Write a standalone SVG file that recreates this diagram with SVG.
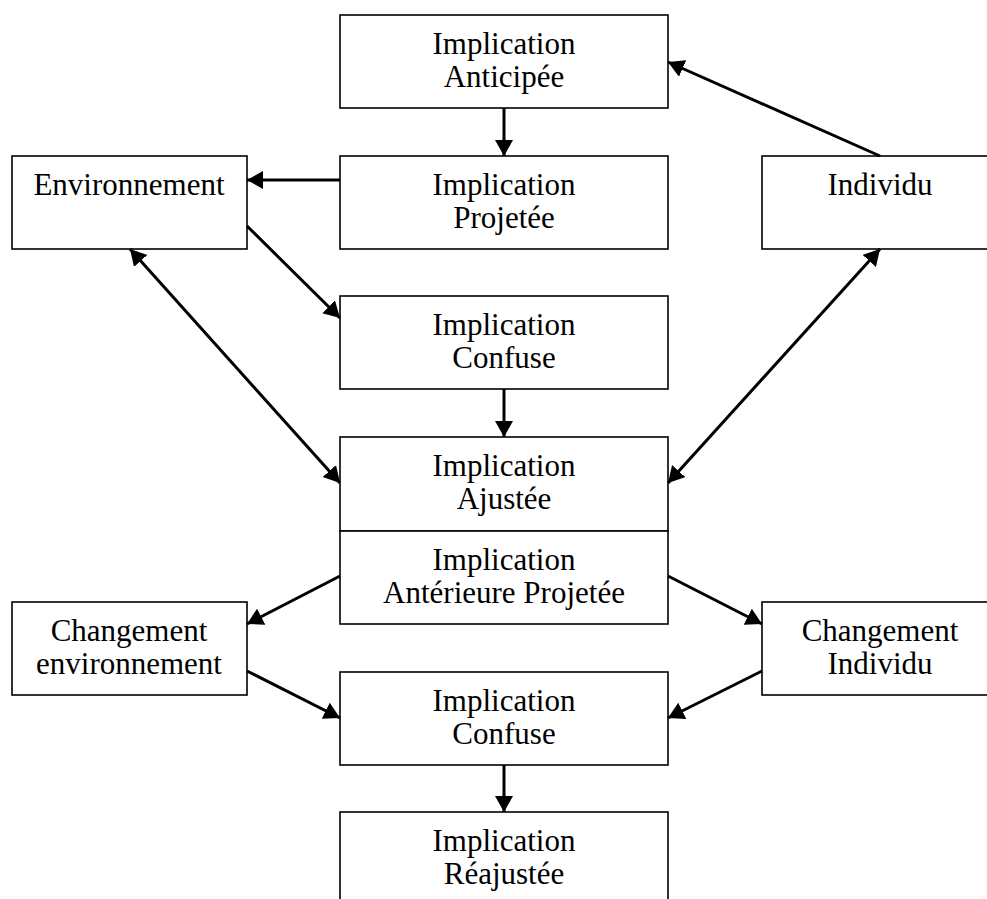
<svg xmlns="http://www.w3.org/2000/svg" width="987" height="899" viewBox="0 0 987 899">
<style>
.box{fill:#fff;stroke:#000;stroke-width:1.6}
.t{font-family:"Liberation Serif","Times New Roman",serif;font-size:31px;fill:#000;text-anchor:middle}
.c{stroke:#000;stroke-width:3;fill:none;marker-end:url(#ah)}
.d{marker-start:url(#ah)}
</style>
<defs>
<marker id="ah" markerUnits="userSpaceOnUse" markerWidth="17" markerHeight="19" refX="16" refY="9" orient="auto-start-reverse" viewBox="0 0 17 19">
<path d="M0,0 L16,9 L0,18 z" fill="#000"/>
</marker>
</defs>
<rect width="987" height="899" fill="#fff"/>
<g id="n-anticipee"><rect class="box" x="340" y="15" width="328" height="93"/><text class="t" x="504" y="54">Implication</text><text class="t" x="504" y="87">Anticipée</text></g>
<g id="n-projetee"><rect class="box" x="340" y="156" width="328" height="93"/><text class="t" x="504" y="195">Implication</text><text class="t" x="504" y="228">Projetée</text></g>
<g id="n-env"><rect class="box" x="12" y="156" width="235" height="93"/><text class="t" x="129" y="195">Environnement</text></g>
<g id="n-individu"><rect class="box" x="762" y="156" width="240" height="93"/><text class="t" x="880" y="195">Individu</text></g>
<g id="n-confuse1"><rect class="box" x="340" y="296" width="328" height="93"/><text class="t" x="504" y="335">Implication</text><text class="t" x="504" y="368">Confuse</text></g>
<g id="n-ajustee"><rect class="box" x="340" y="437" width="328" height="94"/><text class="t" x="504" y="476">Implication</text><text class="t" x="504" y="509">Ajustée</text></g>
<g id="n-anterieure"><rect class="box" x="340" y="531" width="328" height="93"/><text class="t" x="504" y="570">Implication</text><text class="t" x="504" y="603">Antérieure Projetée</text></g>
<g id="n-chenv"><rect class="box" x="12" y="602" width="235" height="93"/><text class="t" x="129" y="641">Changement</text><text class="t" x="129" y="674">environnement</text></g>
<g id="n-chind"><rect class="box" x="762" y="602" width="240" height="93"/><text class="t" x="880" y="641">Changement</text><text class="t" x="880" y="674">Individu</text></g>
<g id="n-confuse2"><rect class="box" x="340" y="672" width="328" height="93"/><text class="t" x="504" y="711">Implication</text><text class="t" x="504" y="744">Confuse</text></g>
<g id="n-reajustee"><rect class="box" x="340" y="812" width="328" height="95"/><text class="t" x="504" y="851">Implication</text><text class="t" x="504" y="884">Réajustée</text></g>
<g id="connectors">
<line class="c" x1="504" y1="108" x2="504" y2="156"/>
<line class="c" x1="880" y1="156" x2="668" y2="62"/>
<line class="c" x1="340" y1="180" x2="247" y2="180"/>
<line class="c" x1="247" y1="226" x2="340" y2="318"/>
<line class="c d" x1="130" y1="249" x2="340" y2="483"/>
<line class="c d" x1="880" y1="249" x2="668" y2="483"/>
<line class="c" x1="504" y1="389" x2="504" y2="437"/>
<line class="c" x1="340" y1="576" x2="247" y2="624"/>
<line class="c" x1="668" y1="576" x2="762" y2="624"/>
<line class="c" x1="247" y1="671" x2="340" y2="718"/>
<line class="c" x1="762" y1="671" x2="668" y2="718"/>
<line class="c" x1="504" y1="765" x2="504" y2="812"/>
</g>
</svg>
